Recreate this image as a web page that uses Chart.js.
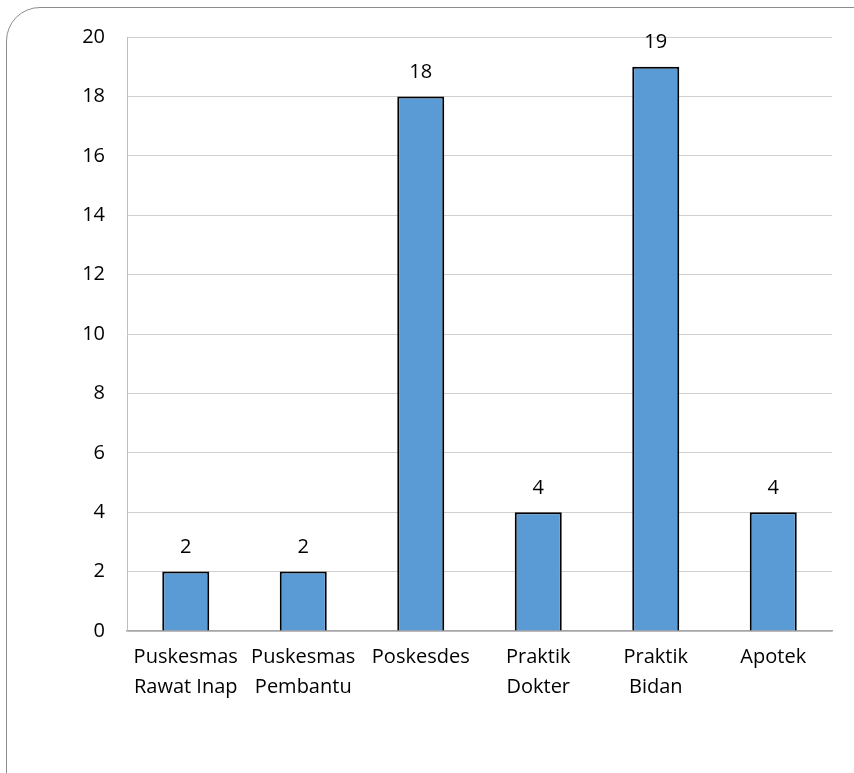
<!DOCTYPE html>
<html>
<head>
<meta charset="utf-8">
<script src="https://cdn.jsdelivr.net/npm/chart.js@4"></script>
<style>
  html, body { margin:0; padding:0; background:#fff; overflow:hidden; }
  .frame { position:absolute; left:6px; top:7px; width:880px; height:800px;
           border:1px solid #8c8c8c; border-radius:34px; }
  #wrap { position:absolute; left:0; top:0; width:854px; height:773px; }
</style>
</head>
<body>
<div class="frame"></div>
<div id="wrap"><canvas id="chart"></canvas></div>
<script>
const kategori = [
  ['Puskesmas', 'Rawat Inap'],
  ['Puskesmas', 'Pembantu'],
  'Poskesdes',
  ['Praktik', 'Dokter'],
  ['Praktik', 'Bidan'],
  'Apotek'
];
const jumlah = [2, 2, 18, 4, 19, 4];
const sumbuY = { min: 0, max: 20, step: 2 };

const FONT = "'Open Sans', 'Liberation Sans', sans-serif";

// label nilai di atas batang
const labelNilai = {
  id: 'labelNilai',
  afterDatasetsDraw(chart) {
    const ctx = chart.ctx;
    const meta = chart.getDatasetMeta(0);
    ctx.save();
    ctx.font = '20px ' + FONT;
    ctx.fillStyle = '#000';
    ctx.textAlign = 'center';
    ctx.textBaseline = 'bottom';
    meta.data.forEach((bar, i) => {
      ctx.fillText(jumlah[i], bar.x, bar.y - 14);
    });
    ctx.restore();
  }
};

new Chart(document.getElementById('chart'), {
  type: 'bar',
  data: {
    labels: kategori,
    datasets: [{
      data: jumlah,
      backgroundColor: '#5B9BD5',
      borderColor: '#000',
      borderWidth: 2,
      barPercentage: 0.8,
      categoryPercentage: 0.5
    }]
  },
  options: {
    responsive: true,
    maintainAspectRatio: false,
    animation: false,
    layout: { padding: { top: 37, right: 22, left: 0, bottom: 0 } },
    plugins: { legend: { display: false }, tooltip: { enabled: false } },
    scales: {
      x: {
        grid: { display: false, drawTicks: false },
        border: { color: '#a6a6a6', width: 1.5 },
        ticks: { color: '#000', font: { family: FONT, size: 20, lineHeight: 1.5 }, padding: 11, maxRotation: 0, autoSkip: false },
        afterFit(s) { s.height = 142; }
      },
      y: {
        min: sumbuY.min, max: sumbuY.max,
        grid: { color: '#d0d0d0', lineWidth: 1, drawTicks: false },
        border: { color: '#bfbfbf', width: 1 },
        ticks: { stepSize: sumbuY.step, color: '#000', font: { family: FONT, size: 20 }, padding: 22 },
        afterFit(s) { s.width = 127; }
      }
    }
  },
  plugins: [labelNilai]
});
</script>
</body>
</html>
